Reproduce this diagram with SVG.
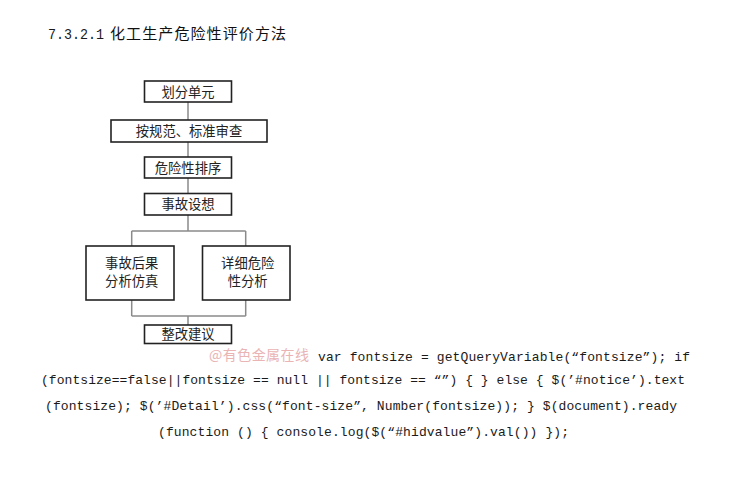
<svg xmlns="http://www.w3.org/2000/svg" width="730" height="481" viewBox="0 0 730 481">
<style>
.box{fill:#fff;stroke:#222;stroke-width:1.6}
.lbl{font-family:"Noto Sans CJK SC","Noto Sans CJK JP",sans-serif;font-size:13.3px;fill:#222;text-anchor:middle}
.con{fill:none;stroke:#8a8a8a;stroke-width:1.5}
.code{font-family:"Liberation Mono","DejaVu Sans Mono",monospace;font-size:13px;fill:#1a1a1a}
</style>
<rect width="730" height="481" fill="#fff"/>
<text x="48" y="39" class="code" style="font-size:14px" textLength="56" lengthAdjust="spacingAndGlyphs">7.3.2.1</text>
<text x="110" y="39" style="font-family:'Noto Sans CJK SC',sans-serif;font-size:15px;fill:#111" textLength="176" lengthAdjust="spacing">化工生产危险性评价方法</text>
<g id="connectors">
<path class="con" d="M188,102 V120 M188,142 V157 M188,178 V193 M188,215 V231 M131.7,231 H245.7 M131.7,231 V246 M245.7,231 V246 M131.7,300 V316 M245.7,300 V316 M131.7,316 H245.7 M188,316 V325"/>
</g>
<g id="n1"><rect class="box" x="144.5" y="81" width="87" height="21"/><text class="lbl" x="188" y="96.5">划分单元</text></g>
<g id="n2"><rect class="box" x="111" y="120" width="156" height="22"/><text class="lbl" x="189" y="135.5">按规范、标准审查</text></g>
<g id="n3"><rect class="box" x="144.5" y="157" width="87" height="21"/><text class="lbl" x="188" y="172.5">危险性排序</text></g>
<g id="n4"><rect class="box" x="144.5" y="193.5" width="87" height="21.5"/><text class="lbl" x="188" y="209">事故设想</text></g>
<g id="n5"><rect class="box" x="86" y="246" width="88" height="54"/><text class="lbl" x="131.7" y="268">事故后果</text><text class="lbl" x="131.7" y="286">分析仿真</text></g>
<g id="n6"><rect class="box" x="202.5" y="246" width="87.5" height="54"/><text class="lbl" x="247.7" y="268">详细危险</text><text class="lbl" x="247.7" y="286">性分析</text></g>
<g id="n7"><rect class="box" x="144.5" y="325" width="87" height="18.5"/><text class="lbl" x="188" y="339">整改建议</text></g>
<text x="209" y="360" style="font-family:'Noto Sans CJK SC',sans-serif;font-size:14px;fill:#eab4b4" textLength="100" lengthAdjust="spacing">@有色金属在线</text>
<text class="code" x="318" y="361" textLength="372" lengthAdjust="spacing">var fontsize = getQueryVariable(“fontsize”); if</text>
<text class="code" x="41" y="384" textLength="644" lengthAdjust="spacing">(fontsize==false||fontsize == null || fontsize == “”) { } else { $(’#notice’).text</text>
<text class="code" x="45" y="410" textLength="632" lengthAdjust="spacing">(fontsize); $(’#Detail’).css(“font-size”, Number(fontsize)); } $(document).ready</text>
<text class="code" x="158" y="435.5" textLength="411" lengthAdjust="spacing">(function () { console.log($(“#hidvalue”).val()) });</text>
</svg>
